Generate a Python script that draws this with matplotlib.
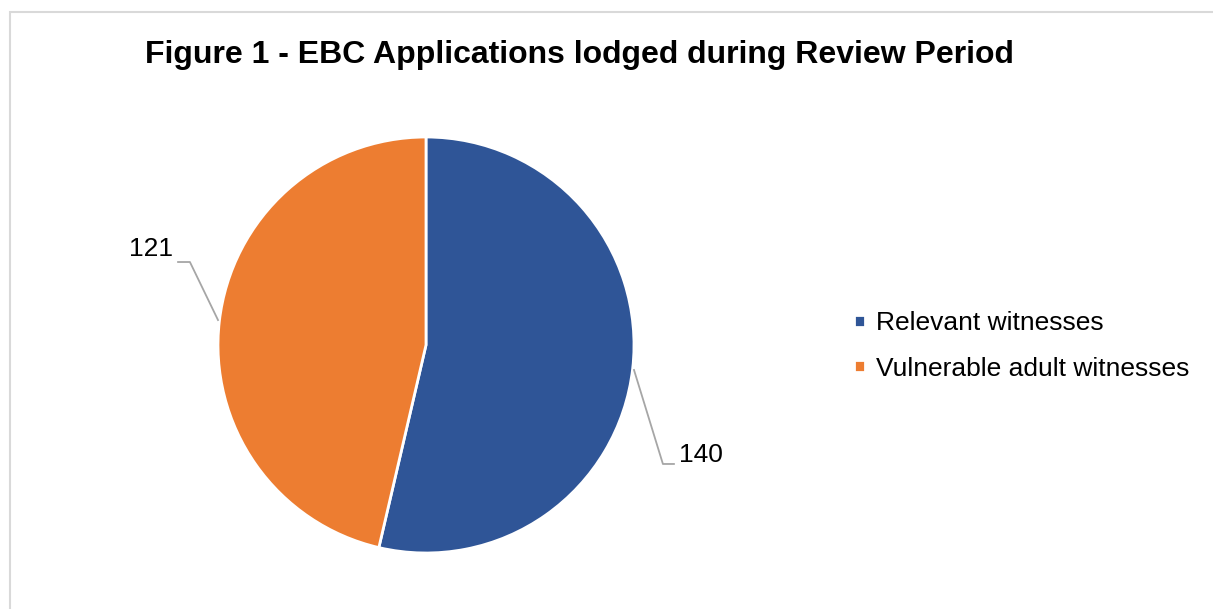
import matplotlib.pyplot as plt
from matplotlib.patches import Rectangle

plt.rcParams['font.family'] = ['Liberation Sans', 'DejaVu Sans']

categorias = ['Relevant witnesses', 'Vulnerable adult witnesses']
valores = [140, 121]
cores = ['#2F5597', '#ED7D31']
titulo = 'Figure 1 - EBC Applications lodged during Review Period'

W, H = 1213, 609
fig = plt.figure(figsize=(W / 100, H / 100), dpi=100)

# moldura cinza clara (só topo e esquerda visíveis)
fig.patches.append(Rectangle((10 / W, -0.1), 1.2, 1.1 - 12 / H, transform=fig.transFigure,
                             fill=False, edgecolor='#D9D9D9', linewidth=1.5))

cx, cy, r = 426, 345, 208
ax = fig.add_axes([(cx - r) / W, (H - cy - r) / H, 2 * r / W, 2 * r / H])
fatias, _ = ax.pie(valores, colors=cores, startangle=90, counterclock=False,
                   radius=1, wedgeprops=dict(edgecolor='white', linewidth=2))
ax.set_xlim(-1, 1)
ax.set_ylim(-1, 1)
ax.set_aspect('equal')
ax.axis('off')

# rótulos com linhas guia
ax.plot([-1.0, -1.135, -1.192], [0.12, 0.399, 0.399], color='#A6A6A6', lw=1.3, clip_on=False)
ax.text(-1.215, 0.46, str(valores[1]), ha='right', va='center', fontsize=19, clip_on=False)
ax.plot([1.0, 1.139, 1.192], [-0.12, -0.572, -0.572], color='#A6A6A6', lw=1.3, clip_on=False)
ax.text(1.215, -0.53, str(valores[0]), ha='left', va='center', fontsize=19, clip_on=False)

fig.text(579 / W, 1 - 55 / H, titulo, ha='center', va='center', fontsize=23, fontweight='bold')

fig.legend(fatias, categorias, loc='center left', bbox_to_anchor=(854 / W, 1 - 346 / H),
           frameon=False, fontsize=19, handlelength=0.42, handleheight=0.3,
           handletextpad=0.42, labelspacing=0.8, borderaxespad=0, borderpad=0)

fig.savefig('out.png', dpi=100)
